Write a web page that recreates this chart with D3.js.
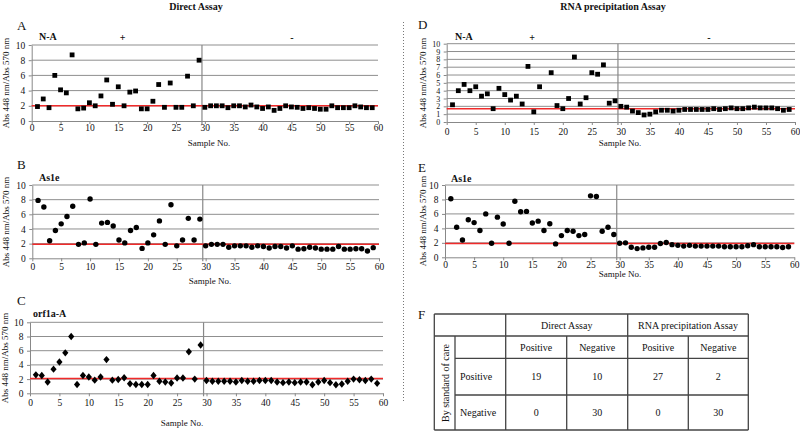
<!DOCTYPE html>
<html><head><meta charset="utf-8">
<script src="https://cdn.jsdelivr.net/npm/d3@7"></script>
<style>
body{margin:0;background:#fff}
svg{display:block}
svg text{font-family:"Liberation Serif","Times New Roman",serif;fill:#111}
</style>
</head><body>
<svg id="c" width="800" height="432" font-family="Liberation Serif, Times New Roman, serif"></svg>
<script>
// ---------- data ----------
const xTicks = [0,5,10,15,20,25,30,35,40,45,50,55,60];
const yTicksEven = [0,2,4,6,8,10];
const yTicksAll = [0,1,2,3,4,5,6,7,8,9,10];
const groupBoundary = 29.5;

const directNA = [1.9,2.9,1.75,6.0,4.1,3.7,8.7,1.6,1.7,2.4,2.0,3.3,5.4,2.2,4.5,2.0,3.8,3.95,1.6,1.6,2.6,4.8,1.8,5.0,1.8,1.8,5.9,2.0,8.0,
  1.8,2.0,2.0,2.0,1.75,2.0,2.0,1.85,2.1,1.85,1.65,1.85,1.4,1.65,2.0,1.85,1.8,1.65,1.75,1.65,1.55,1.55,2.0,1.75,1.75,1.75,2.0,1.85,1.75,1.75];
const directAs1e = [7.9,7.0,2.4,3.8,4.7,5.7,7.1,1.9,2.1,8.1,1.9,4.8,4.9,4.4,2.5,2.1,3.8,4.2,1.35,2.1,3.2,5.1,1.9,7.3,1.7,2.5,5.45,2.5,5.35,
  1.7,1.9,1.9,1.9,1.5,1.7,1.7,1.7,1.5,1.7,1.6,1.4,1.6,1.6,1.4,1.7,1.25,1.3,1.5,1.4,1.25,1.25,1.25,1.6,1.25,1.25,1.3,1.3,1.0,1.45];
const directOrf1a = [2.6,2.5,1.6,3.4,4.4,5.7,8.0,1.25,2.5,2.3,1.85,2.3,4.75,1.85,1.95,2.2,1.35,1.25,1.25,1.25,2.5,1.7,1.6,1.45,2.15,2.15,5.85,2.0,6.8,
  1.8,1.7,1.7,1.7,1.7,1.6,1.8,1.7,1.7,1.8,1.8,1.8,1.6,1.5,1.6,1.5,1.6,1.6,1.2,1.6,1.8,1.5,1.2,1.3,1.7,2.0,1.9,1.8,2.0,1.4];
const rnaNA = [2.2,4.0,4.8,4.0,4.5,3.3,3.6,1.7,4.3,3.5,2.8,3.3,2.3,7.1,1.3,4.5,null,6.3,2.1,1.7,3.0,8.3,2.3,3.1,6.3,6.1,7.3,2.4,2.7,
  2.0,1.9,1.4,1.2,0.9,1.0,1.3,1.5,1.5,1.4,1.5,1.6,1.6,1.6,1.6,1.6,1.7,1.6,1.7,1.8,1.7,1.7,1.8,1.9,1.8,1.8,1.8,1.7,1.5,1.6];
const rnaAs1e = [8.1,4.15,2.4,5.2,4.8,3.7,6.0,1.95,5.55,4.6,1.95,7.75,6.3,6.35,4.75,5.0,3.7,4.65,1.85,3.0,3.7,3.6,3.0,3.15,8.5,8.4,3.6,4.15,3.15,
  1.95,2.0,1.4,1.2,1.3,1.4,1.4,1.9,2.05,1.75,1.65,1.55,1.65,1.55,1.55,1.55,1.55,1.55,1.45,1.45,1.45,1.45,1.6,1.75,1.45,1.45,1.45,1.45,1.35,1.45];
const cutoffValues = [2.0, 1.9, 2.1, 1.7, 1.9];
const panelLetters = ["A","B","C","D","E"];
const targetNames = ["N-A","As1e","orf1a-A","N-A","As1e"];
const assayTitles = ["Direct Assay","RNA precipitation Assay"];
const groupSigns = ["+","-"];

const tableAssays = ["Direct Assay","RNA precipitation Assay"];
const tableSub = ["Positive","Negative","Positive","Negative"];
const tableRowLabels = ["Positive","Negative"];
const tableValues = [[19,10,27,2],[0,30,0,30]];
const tableSideLabel = "By standard of care";

// ---------- layout ----------
const svg = d3.select("#c");
const panels = [
  {series:directNA, l:31.7,r:378,t:45,b:121, yt:yTicksEven, yfs:9.5, shape:"square", letter:[17,30], name:[39,40], ylab:[9,83], xlab:[209,146], xpad:0, signs:[122.7,292]},
  {series:directAs1e, l:32.3,r:379,t:185,b:258.3, yt:yTicksEven, yfs:9.5, shape:"circle", letter:[17,169], name:[39,181], ylab:[9,222], xlab:[210,284], xpad:1.5},
  {series:directOrf1a, l:30,r:383,t:322.3,b:393.3, yt:yTicksEven, yfs:9.5, shape:"diamond", letter:[17,305], name:[33,317], ylab:[8,358], xlab:[182,426], xpad:2.5},
  {series:rnaNA, l:446.7,r:795,t:43.7,b:122, yt:yTicksAll, yfs:8, shape:"square", letter:[418,29], name:[455,40], ylab:[426,83], xlab:[620,146], xpad:3, signs:[532,709]},
  {series:rnaAs1e, l:445,r:794.3,t:185,b:257.3, yt:yTicksEven, yfs:9.5, shape:"circle", letter:[418,172], name:[451,182], ylab:[426,221], xlab:[620,277], xpad:0.5}
];

// titles
svg.append("text").attr("x",196).attr("y",10).attr("text-anchor","middle")
  .attr("font-size",10).attr("font-weight","bold").text(assayTitles[0]);
svg.append("text").attr("x",613).attr("y",10).attr("text-anchor","middle")
  .attr("font-size",10).attr("font-weight","bold").text(assayTitles[1]);

// dotted divider
svg.append("line").attr("x1",403.5).attr("x2",403.5).attr("y1",22).attr("y2",402)
  .attr("stroke","#777").attr("stroke-dasharray","1,2");

panels.forEach((p,i)=>{
  const g = svg.append("g");
  const x = d3.scaleLinear().domain([0,60]).range([p.l,p.r]);
  const y = d3.scaleLinear().domain([0,10]).range([p.b,p.t]);
  g.selectAll("line.grid").data(p.yt.filter(v=>v>0)).join("line")
    .attr("x1",p.l).attr("x2",p.r).attr("y1",d=>y(d)).attr("y2",d=>y(d))
    .attr("stroke","#8f8f8f").attr("stroke-width",1);
  const ax = g.append("g").attr("transform",`translate(0,${p.b})`)
    .call(d3.axisBottom(x).tickValues(xTicks).tickSize(3).tickPadding(p.xpad).tickSizeOuter(0));
  const ay = g.append("g").attr("transform",`translate(${p.l},0)`)
    .call(d3.axisLeft(y).tickValues(p.yt).tickSize(3).tickPadding(3.5).tickSizeOuter(0));
  [ax,ay].forEach((a,k)=>{
    a.attr("font-family",null).attr("font-size",null);
    a.select(".domain").attr("stroke","#888");
    a.selectAll(".tick line").attr("stroke","#888");
    a.selectAll(".tick text").attr("font-size",k===1?p.yfs:9.5).attr("fill","#222");
  });
  g.append("line").attr("x1",x(groupBoundary)).attr("x2",x(groupBoundary))
    .attr("y1",y(10)).attr("y2",p.b+3).attr("stroke","#888").attr("stroke-width",1.2);
  g.append("line").attr("x1",p.l).attr("x2",p.r)
    .attr("y1",y(cutoffValues[i])).attr("y2",y(cutoffValues[i]))
    .attr("stroke","#f02a2a").attr("stroke-width",1.5);
  const pts = p.series.map((v,k)=>({n:k+1,v})).filter(d=>d.v!==null);
  if(p.shape==="square"){
    g.selectAll("rect.pt").data(pts).join("rect")
      .attr("x",d=>x(d.n)-2.4).attr("y",d=>y(d.v)-2.4).attr("width",4.8).attr("height",4.8).attr("fill","#000");
  } else if(p.shape==="circle"){
    g.selectAll("circle.pt").data(pts).join("circle")
      .attr("cx",d=>x(d.n)).attr("cy",d=>y(d.v)).attr("r",2.7).attr("fill","#000");
  } else {
    g.selectAll("path.pt").data(pts).join("path")
      .attr("d",d=>`M${x(d.n)},${y(d.v)-3.7}L${x(d.n)+3.1},${y(d.v)}L${x(d.n)},${y(d.v)+3.7}L${x(d.n)-3.1},${y(d.v)}Z`)
      .attr("fill","#000");
  }
  svg.append("text").attr("x",p.letter[0]).attr("y",p.letter[1]).attr("font-size",13).text(panelLetters[i]);
  svg.append("text").attr("x",p.name[0]).attr("y",p.name[1]).attr("font-size",10).attr("font-weight","bold").text(targetNames[i]);
  svg.append("text").attr("transform",`translate(${p.ylab[0]},${p.ylab[1]}) rotate(-90)`)
    .attr("text-anchor","middle").attr("font-size",9).text("Abs 448 nm/Abs 570 nm");
  svg.append("text").attr("x",p.xlab[0]).attr("y",p.xlab[1]).attr("text-anchor","middle")
    .attr("font-size",9).text("Sample No.");
  if(p.signs){
    p.signs.forEach((sx,j)=>{
      svg.append("text").attr("x",sx).attr("y",41).attr("text-anchor","middle")
        .attr("font-size",10).attr("font-weight","bold").text(groupSigns[j]);
    });
  }
});

// ---------- table F ----------
svg.append("text").attr("x",418).attr("y",319).attr("font-size",13).text("F");
const cx = [434.3,455,505.7,566.7,627.7,688.3,748.3];
const ry = [314,336,358.3,395,430];
const tg = svg.append("g");
const tl = (x1,y1,x2,y2)=>tg.append("line").attr("x1",x1).attr("y1",y1).attr("x2",x2).attr("y2",y2)
  .attr("stroke","#444").attr("stroke-width",1.3);
tl(cx[0],ry[0],cx[6],ry[0]);
tl(cx[0],ry[1],cx[6],ry[1]);
tl(cx[1],ry[2],cx[6],ry[2]);
tl(cx[1],ry[3],cx[6],ry[3]);
tl(cx[0],ry[4],cx[6],ry[4]);
tl(cx[0],ry[0],cx[0],ry[4]);
tl(cx[1],ry[1],cx[1],ry[4]);
tl(cx[2],ry[0],cx[2],ry[4]);
tl(cx[3],ry[1],cx[3],ry[4]);
tl(cx[4],ry[0],cx[4],ry[4]);
tl(cx[5],ry[1],cx[5],ry[4]);
tl(cx[6],ry[0],cx[6],ry[4]);
const tt = (x,y,s,anchor)=>tg.append("text").attr("x",x).attr("y",y).attr("text-anchor",anchor||"middle")
  .attr("font-size",10).attr("dominant-baseline","central").text(s);
tt((cx[2]+cx[4])/2,(ry[0]+ry[1])/2,tableAssays[0]);
tt((cx[4]+cx[6])/2,(ry[0]+ry[1])/2,tableAssays[1]);
tableSub.forEach((s,j)=>tt((cx[2+j]+cx[3+j])/2,(ry[1]+ry[2])/2,s));
tableRowLabels.forEach((s,r)=>{
  tt(cx[1]+5,(ry[2+r]+ry[3+r])/2,s,"start");
  tableValues[r].forEach((v,j)=>tt((cx[2+j]+cx[3+j])/2,(ry[2+r]+ry[3+r])/2,v));
});
tg.append("text").attr("transform",`translate(${(cx[0]+cx[1])/2+1},${(ry[1]+ry[4])/2}) rotate(-90)`)
  .attr("text-anchor","middle").attr("dominant-baseline","central").attr("font-size",10).text(tableSideLabel);
</script>
</body></html>
